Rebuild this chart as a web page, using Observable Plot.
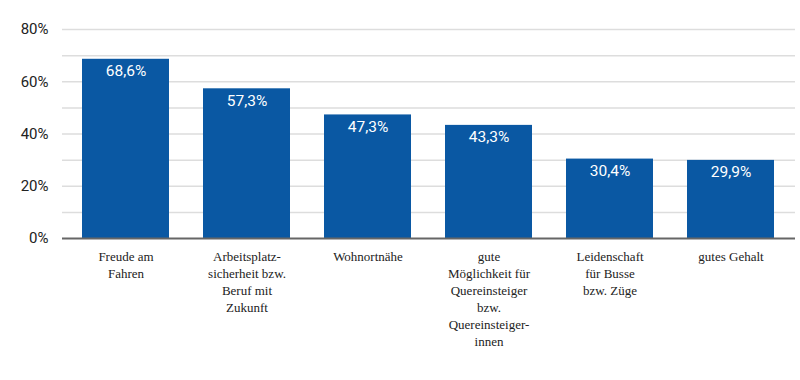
<!DOCTYPE html>
<html><head><meta charset="utf-8">
<script src="https://cdn.jsdelivr.net/npm/d3@7"></script>
<script src="https://cdn.jsdelivr.net/npm/@observablehq/plot@0.6"></script>
<style>body{margin:0;background:#fff}</style>
</head><body><div id="chart"></div>
<script>
const categories = ["Freude am Fahren","Arbeitsplatzsicherheit bzw. Beruf mit Zukunft","Wohnortnähe","gute Möglichkeit für Quereinsteiger bzw. Quereinsteigerinnen","Leidenschaft für Busse bzw. Züge","gutes Gehalt"];
const tickLabels = ["Freude am\nFahren","Arbeitsplatz-\nsicherheit bzw.\nBeruf mit\nZukunft","Wohnortnähe","gute\nMöglichkeit für\nQuereinsteiger\nbzw.\nQuereinsteiger-\ninnen","Leidenschaft\nfür Busse\nbzw. Züge","gutes Gehalt"];
const values = [68.6, 57.3, 47.3, 43.3, 30.4, 29.9];
const yTicks = [0, 20, 40, 60, 80];
const gridTicks = [10, 20, 30, 40, 50, 60, 70, 80];

const data = categories.map((c, i) => ({cat: c, value: values[i]}));
const labelOf = new Map(categories.map((c, i) => [c, tickLabels[i]]));
const fmt = v => v.toFixed(1).replace(".", ",") + "%";

const chart = Plot.plot({
  width: 800,
  height: 380,
  marginTop: 29,
  marginBottom: 142,
  marginLeft: 62,
  marginRight: 5,
  style: {fontFamily: "Roboto, sans-serif", background: "#fff"},
  x: {domain: categories, paddingInner: 0.277, paddingOuter: 0.148, axis: null},
  y: {domain: [0, 80], axis: null},
  marks: [
    Plot.ruleY(gridTicks, {stroke: "#dddddd", strokeWidth: 1.5}),
    Plot.barY(data, {x: "cat", y: "value", fill: "#0a58a3"}),
    Plot.ruleY([0], {stroke: "#666", strokeWidth: 2}),
    Plot.text(data, {x: "cat", y: "value", text: d => fmt(d.value), fill: "white", dy: 12, fontSize: 15.5, fontWeight: 400}),
    Plot.axisY(yTicks, {tickSize: 0, tickPadding: 14, tickFormat: d => d + "%", fontSize: 15, fill: "#222", label: null}),
    Plot.axisX(categories, {tickSize: 0, tickPadding: 10, tickFormat: d => labelOf.get(d), fontSize: 13, lineHeight: 1.32, fontFamily: "Liberation Serif, serif", fill: "#222", label: null, textAnchor: "middle", lineAnchor: "top"})
  ]
});
document.getElementById("chart").appendChild(chart);
</script></body></html>
